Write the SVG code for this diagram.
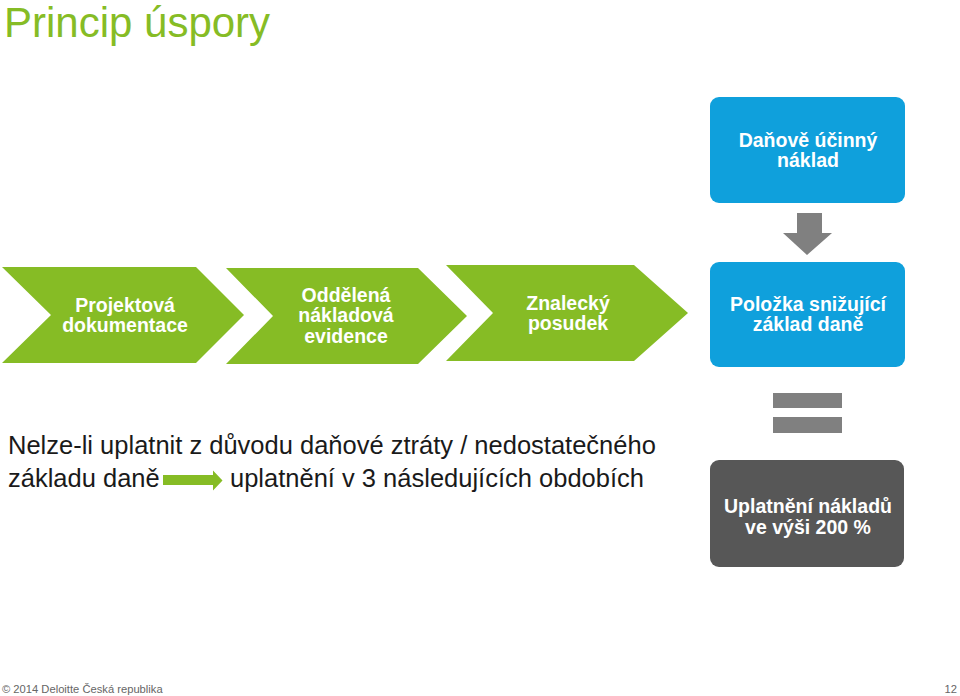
<svg xmlns="http://www.w3.org/2000/svg" width="960" height="696" viewBox="0 0 960 696">
<style>
text{font-family:"Liberation Sans",Arial,sans-serif}
.chev{fill:#86bc25}
.blue{fill:#0fa0dc}
.lbl{fill:#ffffff;font-size:19.5px;font-weight:bold;text-anchor:middle}
.body{fill:#1a1a1a;font-size:25.5px}
.gray{fill:#808080}
</style>
<rect width="960" height="696" fill="#ffffff"/>
<text x="4" y="37" font-size="42" fill="#86bc25">Princip úspory</text>

<g id="node-projektova">
<polygon class="chev" points="2,267 196,267 244,315 196,363 2,363 51,315"/>
<text class="lbl" x="125" y="311.5">Projektová</text>
<text class="lbl" x="125" y="331.5">dokumentace</text>
</g>
<g id="node-oddelena">
<polygon class="chev" points="226,268 418,268 467,316 418,364 226,364 273,316"/>
<text class="lbl" x="346" y="301.5">Oddělená</text>
<text class="lbl" x="346" y="322">nákladová</text>
<text class="lbl" x="346" y="342.5">evidence</text>
</g>
<g id="node-znalecky">
<polygon class="chev" points="446,265 634,265 688,313 634,361 446,361 493,313"/>
<text class="lbl" x="568" y="310">Znalecký</text>
<text class="lbl" x="568" y="330">posudek</text>
</g>
<g id="node-danove">
<rect class="blue" x="710" y="97" width="195" height="106" rx="9"/>
<text class="lbl" x="808" y="147">Daňově účinný</text>
<text class="lbl" x="808" y="167">náklad</text>
</g>
<g id="node-polozka">
<rect class="blue" x="710" y="262" width="195" height="105" rx="9"/>
<text class="lbl" x="808" y="310.5">Položka snižující</text>
<text class="lbl" x="808" y="330.5">základ daně</text>
</g>
<g id="node-uplatneni">
<rect x="710" y="460" width="194" height="107" rx="9" fill="#575757"/>
<text class="lbl" x="808" y="513">Uplatnění nákladů</text>
<text class="lbl" x="808" y="534">ve výši 200 %</text>
</g>

<g id="connectors">
<polygon class="gray" points="797,213 822,213 822,233 832,233 807,255 783,233 797,233"/>
<rect class="gray" x="773" y="393" width="69" height="15"/>
<rect class="gray" x="773" y="417" width="69" height="16"/>
<polygon fill="#86bc25" points="163,475 213,475 213,470.5 222.5,480.5 213,490.5 213,485 163,485"/>
</g>

<text class="body" x="8" y="454">Nelze-li uplatnit z důvodu daňové ztráty / nedostatečného</text>
<text class="body" x="8" y="487">základu daně</text>
<text class="body" x="230" y="487">uplatnění v 3 následujících obdobích</text>

<text x="2" y="693" font-size="11.2" fill="#666666">© 2014 Deloitte Česká republika</text>
<text x="957" y="693" font-size="11.2" fill="#666666" text-anchor="end">12</text>
</svg>
